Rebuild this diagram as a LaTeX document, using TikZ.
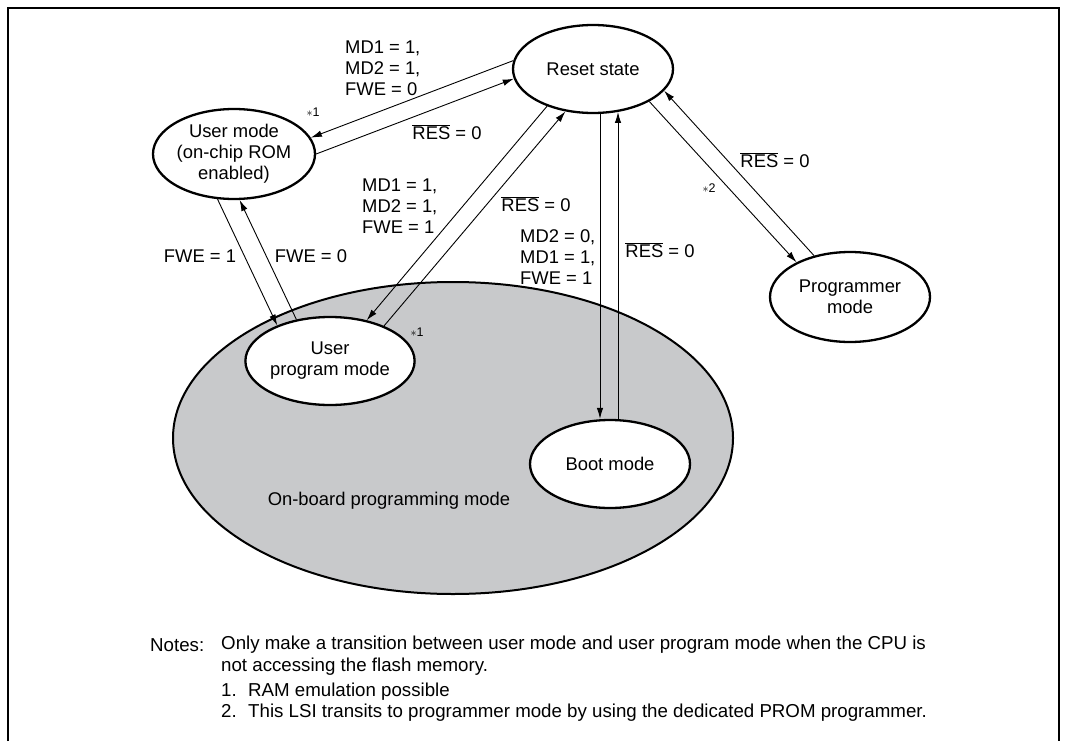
\documentclass[tikz,border=0pt]{standalone}
\usepackage{fontspec}
\setmainfont{Liberation Sans}
\usetikzlibrary{arrows.meta,shapes.geometric,calc}
\definecolor{boardgray}{RGB}{200,201,203}
\newcommand{\resb}{$\overline{\mbox{RES}}$}
\begin{document}
\begin{tikzpicture}[x=1pt,y=-1pt,
  state/.style={ellipse, draw, line width=2.3pt, fill=white, inner sep=0pt,
    font=\fontsize{18.4}{21}\selectfont, align=center},
  conn/.style={line width=0.9pt, -{Latex[length=11pt,width=6.5pt]}},
  lbl/.style={font=\fontsize{18.4}{21}\selectfont, align=left, inner sep=0pt},
  note/.style={font=\fontsize{18.7}{22}\selectfont, align=left, inner sep=0pt, anchor=west},
  star/.style={font=\fontsize{12.5}{14}\selectfont, inner sep=0pt}]
\useasboundingbox (0,0) rectangle (1067,741);
\draw[line width=2pt] (8,741) -- (8,8) -- (1059,8) -- (1059,741);
% on-board region
\node[ellipse, draw, fill=boardgray, line width=2pt, minimum width=560pt,
  minimum height=312pt, inner sep=0pt] (board) at (453,438) {};
\node[lbl] (boardlbl) at (389,501) {On-board programming mode};
% states
\node[state, minimum width=160pt, minimum height=88pt] (reset) at (593,69) {Reset state};
\node[state, minimum width=162pt, minimum height=90pt] (user) at (234,154) {User mode\\(on-chip ROM\\enabled)};
\node[state, minimum width=158pt, minimum height=88pt] (uprog) at (330,361) {User\\program mode};
\node[state, minimum width=160pt, minimum height=88pt] (boot) at (610,464) {Boot mode};
\node[state, minimum width=160pt, minimum height=90pt] (prog) at (850,297) {Programmer\\mode};
% connectors
\draw[conn] (reset.174) -- (user.12.6);
\draw[conn] (user.0) -- (reset.187);
\draw[conn] (user.250) -- (uprog.146.6);
\draw[conn] (uprog.129.7) -- (user.277.4);
\draw[conn] (reset.219) -- (uprog.48);
\draw[conn] (uprog.33.4) -- (reset.237.5);
\draw[conn] ([xshift=7pt]reset.south) -- ([xshift=-10pt]boot.north);
\draw[conn] ([xshift=8pt]boot.north) -- ([xshift=8pt]boot.north |- reset.300);
\draw[conn] (reset.330.7) -- (prog.147.8);
\draw[conn] (prog.131.3) -- (reset.343);
% labels
\node[lbl, anchor=west] (l1) at (345,68) {MD1 = 1,\\MD2 = 1,\\FWE = 0};
\node[star] (s1) at (313,112) {$\ast$1};
\node[lbl] (l2) at (447,132) {\resb{} = 0};
\node[lbl, anchor=west] (l3) at (362,206) {MD1 = 1,\\MD2 = 1,\\FWE = 1};
\node[lbl] (l4) at (536,204) {\resb{} = 0};
\node[lbl, anchor=west] (l5) at (520,257) {MD2 = 0,\\MD1 = 1,\\FWE = 1};
\node[lbl] (l6) at (660,250) {\resb{} = 0};
\node[lbl] (l7) at (775,160) {\resb{} = 0};
\node[star] (s2) at (709,188) {$\ast$2};
\node[star] (s3) at (417,332) {$\ast$1};
\node[lbl] (l8) at (200,256) {FWE = 1};
\node[lbl] (l9) at (311,256) {FWE = 0};
% notes
\node[note] (nt) at (150,645) {Notes:};
\node[note] (n1) at (221,645) {Only make a transition between user mode and user program mode when the CPU is};
\node[note] (n2) at (221,667) {not accessing the flash memory.};
\node[note] (n3) at (221,692) {\makebox[27pt][l]{1.}RAM emulation possible};
\node[note] (n4) at (221,713) {\makebox[27pt][l]{2.}This LSI transits to programmer mode by using the dedicated PROM programmer.};
\end{tikzpicture}
\end{document}
